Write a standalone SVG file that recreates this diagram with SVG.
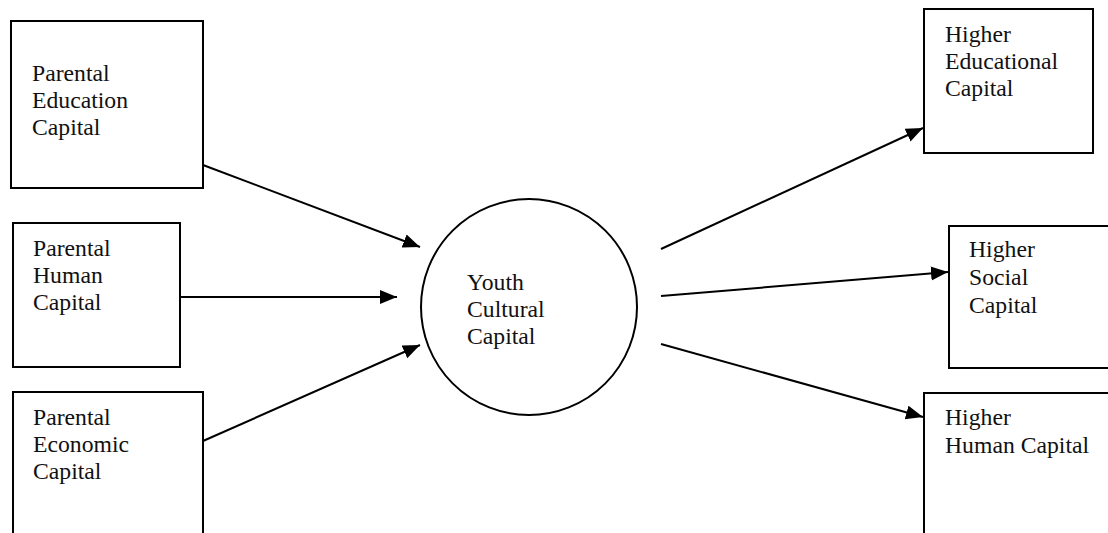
<svg xmlns="http://www.w3.org/2000/svg" width="1108" height="533" viewBox="0 0 1108 533">
<defs>
<style>
.box{fill:#fff;stroke:#000;stroke-width:2}
.t{font-family:"Liberation Serif","Times New Roman",serif;font-size:23.7px;fill:#111}
.c{stroke:#000;stroke-width:2;fill:none}
</style>
<marker id="ah" markerUnits="userSpaceOnUse" markerWidth="20" markerHeight="16" refX="17" refY="7" orient="auto">
<path d="M0,0 L17,7 L0,14 z" fill="#000"/>
</marker>
</defs>
<rect width="1108" height="533" fill="#fff"/>
<g id="parental-education">
<rect class="box" x="11" y="21" width="192" height="167"/>
<text class="t" x="32" y="81">Parental</text>
<text class="t" x="32" y="108">Education</text>
<text class="t" x="32" y="135">Capital</text>
</g>
<g id="parental-human">
<rect class="box" x="13" y="223" width="167" height="144"/>
<text class="t" x="33" y="256">Parental</text>
<text class="t" x="33" y="283">Human</text>
<text class="t" x="33" y="310">Capital</text>
</g>
<g id="parental-economic">
<rect class="box" x="13" y="392" width="190" height="150"/>
<text class="t" x="33" y="425">Parental</text>
<text class="t" x="33" y="452">Economic</text>
<text class="t" x="33" y="479">Capital</text>
</g>
<g id="youth-cultural">
<circle class="box" cx="529" cy="307" r="108"/>
<text class="t" x="467" y="290">Youth</text>
<text class="t" x="467" y="317">Cultural</text>
<text class="t" x="467" y="344">Capital</text>
</g>
<g id="higher-educational">
<rect class="box" x="924" y="9" width="169" height="144"/>
<text class="t" x="945" y="42">Higher</text>
<text class="t" x="945" y="69">Educational</text>
<text class="t" x="945" y="96">Capital</text>
</g>
<g id="higher-social">
<rect class="box" x="949" y="226" width="170" height="142"/>
<text class="t" x="969" y="257">Higher</text>
<text class="t" x="969" y="285">Social</text>
<text class="t" x="969" y="313">Capital</text>
</g>
<g id="higher-human">
<rect class="box" x="924" y="393" width="195" height="150"/>
<text class="t" x="945" y="425">Higher</text>
<text class="t" x="945" y="453">Human Capital</text>
</g>
<g id="connectors">
<line class="c" x1="203" y1="165" x2="420" y2="247" marker-end="url(#ah)"/>
<line class="c" x1="180" y1="297" x2="397" y2="297" marker-end="url(#ah)"/>
<line class="c" x1="203" y1="441" x2="420" y2="345" marker-end="url(#ah)"/>
<line class="c" x1="661" y1="249" x2="923" y2="128" marker-end="url(#ah)"/>
<line class="c" x1="661" y1="296" x2="948" y2="272" marker-end="url(#ah)"/>
<line class="c" x1="661" y1="344" x2="923" y2="417" marker-end="url(#ah)"/>
</g>
</svg>
